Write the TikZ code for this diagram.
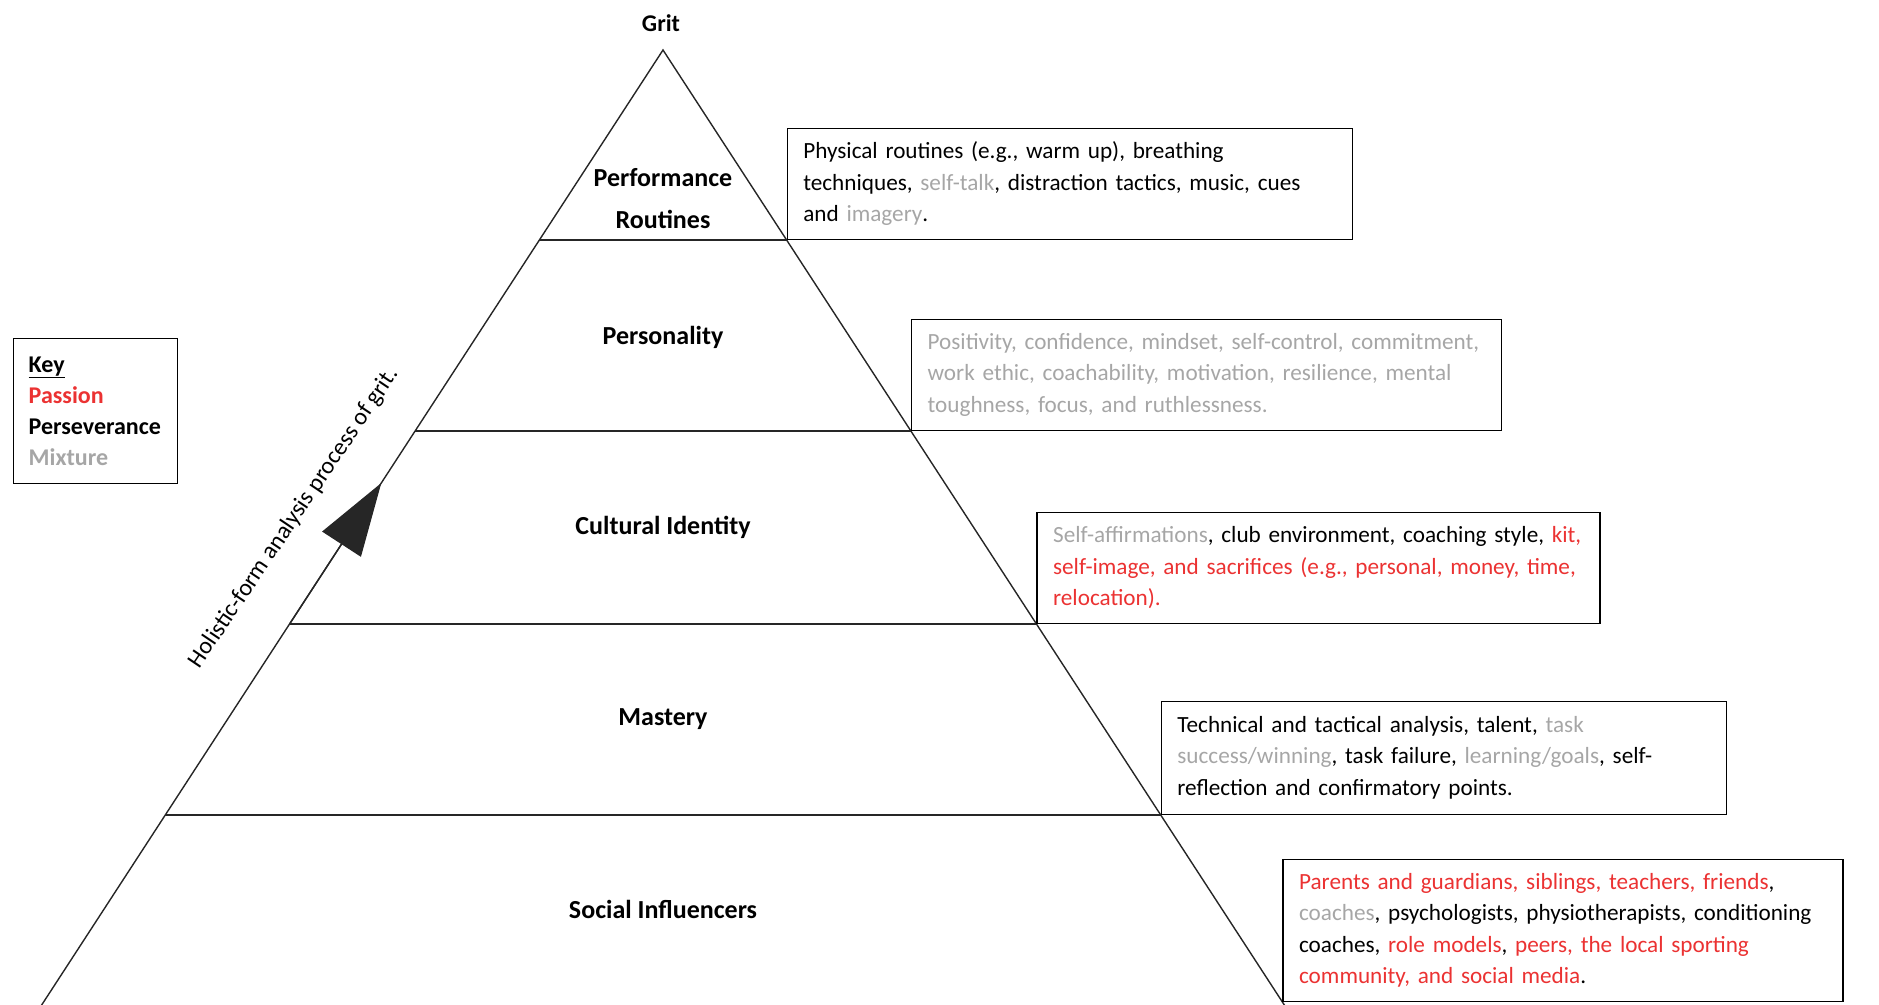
\documentclass[tikz,border=0pt]{standalone}
\usepackage{fontspec}
\setmainfont{Carlito}
\usetikzlibrary{arrows.meta}
\definecolor{passion}{RGB}{235,50,50}
\definecolor{mixture}{RGB}{166,166,166}
\newcommand\rd[1]{\textcolor{passion}{#1}}
\newcommand\gr[1]{\textcolor{mixture}{#1}}
\newcommand\lineof[1]{\mbox{#1}}
\frenchspacing
\begin{document}
\begin{tikzpicture}[x=1pt,y=-1pt,
  edge/.style={line width=1.4pt, black!85},
  levellabel/.style={font=\bfseries\fontsize{26}{42}\selectfont, align=center, inner sep=0pt},
  infobox/.style={draw, line width=1.4pt, anchor=south west, align=left, inner xsep=16pt, inner ysep=0pt, font=\fontsize{23.2}{31.5}\selectfont},
  keybox/.style={draw, line width=1.4pt, anchor=north west, align=left, inner xsep=15pt, inner ysep=0pt, text width=134pt, minimum width=164pt, minimum height=145pt, font=\bfseries\fontsize{24}{31}\selectfont}
]
\useasboundingbox (0,0) rectangle (1879,1004);
\clip (0,0) rectangle (1879,1004);

% pyramid points
\coordinate (apex) at (663,50);
\coordinate (L1) at (539.4,240);  \coordinate (R1) at (786.6,240);
\coordinate (L2) at (415.1,431);  \coordinate (R2) at (910.9,431);
\coordinate (L3) at (289.6,624);  \coordinate (R3) at (1036.4,624);
\coordinate (L4) at (165.3,815);  \coordinate (R4) at (1160.7,815);
\coordinate (R5) at (1282.4,1002);
\coordinate (Lb) at (31.9,1020);  \coordinate (Rb) at (1294.1,1020);
\coordinate (tip) at (381.3,483);

% pyramid outline and levels
\draw[edge] (Lb) -- (apex) -- (Rb);
\draw[edge] (L1) -- (R1);
\draw[edge] (L2) -- (R2);
\draw[edge] (L3) -- (R3);
\draw[edge] (L4) -- (R4);

% arrow on the left side
\draw[edge, -{Triangle[length=73pt,width=46pt]}] (L3) -- (tip);

% labels
\node[levellabel, font=\bfseries\fontsize{24}{30}\selectfont] (grit) at (661,23) {Grit};
\node[levellabel] (lvl1) at (663,199) {Performance\\Routines};
\node[levellabel] (lvl2) at (663,337) {Personality};
\node[levellabel] (lvl3) at (663,527) {Cultural Identity};
\node[levellabel] (lvl4) at (663,719) {Mastery};
\node[levellabel] (lvl5) at (663,909) {Social Influencers};

\node[font=\fontsize{24}{30}\selectfont, rotate=56, inner sep=0pt] (holistic) at (294,518) {Holistic-form analysis process of grit.};

% key
\node[keybox] (key) at (13,338) {\lineof{\underline{Key}}\\ \lineof{\rd{Passion}}\\ \lineof{Perseverance}\\ \lineof{\gr{Mixture}}};

% info boxes
\node[infobox, text width=533pt, minimum height=111pt] (b1) at (R1)
 {\lineof{Physical routines (e.g., warm up), breathing}\\
  \lineof{techniques, \gr{self-talk}, distraction tactics, music, cues}\\
  \lineof{and \gr{imagery}.}};
\node[infobox, text width=558pt, minimum height=111pt] (b2) at (R2)
 {\lineof{\gr{Positivity, confidence, mindset, self-control, commitment,}}\\
  \lineof{\gr{work ethic, coachability, motivation, resilience, mental}}\\
  \lineof{\gr{toughness, focus, and ruthlessness.}}};
\node[infobox, text width=531pt, minimum height=111pt] (b3) at (R3)
 {\lineof{\gr{Self-affirmations}, club environment, coaching style, \rd{kit,}}\\
  \lineof{\rd{self-image, and sacrifices (e.g., personal, money, time,}}\\
  \lineof{\rd{relocation).}}};
\node[infobox, text width=533pt, minimum height=113pt] (b4) at (R4)
 {\lineof{Technical and tactical analysis, talent, \gr{task}}\\
  \lineof{\gr{success/winning}, task failure, \gr{learning/goals}, self-}\\
  \lineof{reflection and confirmatory points.}};
\node[infobox, text width=528pt, minimum height=142pt] (b5) at (R5)
 {\lineof{\rd{Parents and guardians, siblings, teachers, friends},}\\
  \lineof{\gr{coaches}, psychologists, physiotherapists, conditioning}\\
  \lineof{coaches, \rd{role models}, \rd{peers, the local sporting}}\\
  \lineof{\rd{community, and social media}.}};
\end{tikzpicture}
\end{document}
